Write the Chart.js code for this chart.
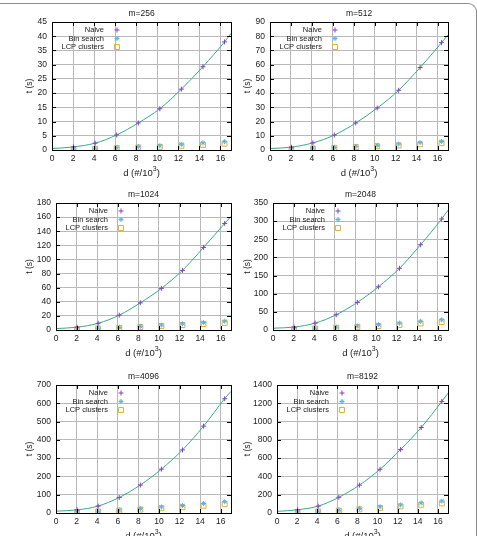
<!DOCTYPE html>
<html>
<head>
<meta charset="utf-8">
<script src="https://cdn.jsdelivr.net/npm/chart.js@4"></script>
<style>
  html, body { margin: 0; padding: 0; background: #fff; }
  body { width: 477px; height: 536px; position: relative; overflow: hidden; }
  .frame {
    position: absolute; left: -12px; top: 3px; width: 489px; height: 560px;
    box-sizing: border-box; border-top: 1.5px solid #8c8c8c; border-right: 1.5px solid #8c8c8c;
    border-top-right-radius: 9px;
  }
  .cell { position: absolute; }
</style>
</head>
<body>
<div class="frame"></div>
<div id="grid"></div>
<script>
// d values (#/10^3) where the runs were measured
const dValues = [2.048, 4.096, 6.144, 8.192, 10.24, 12.288, 14.336, 16.384];

const panelTitles = ['m=256', 'm=512', 'm=1024', 'm=2048', 'm=4096', 'm=8192'];
const yMaxes = [45, 90, 180, 350, 700, 1400];
const ySteps = [5, 10, 20, 50, 100, 200];

const naive256 = [1.1, 2.4, 5.3, 9.5, 14.5, 21.4, 29.3, 38.0];
const naive512 = [2.0, 5.0, 10.5, 19.0, 29.5, 42.0, 58.0, 75.5];
const naive1024 = [4, 9.5, 21, 38.5, 59, 84.5, 117, 151];
const naive2048 = [8, 19, 42, 76, 119, 170, 235, 306];
const naive4096 = [17, 38, 85, 153, 240, 345, 475, 625];
const naive8192 = [35, 75, 172, 305, 478, 695, 935, 1220];

const bin256 = [0.3, 0.6, 0.8, 1.2, 1.5, 2.0, 2.5, 2.9];
const bin512 = [0.8, 1.3, 1.8, 2.6, 3.3, 4.2, 5.2, 6.0];
const bin1024 = [1.5, 2.5, 3.7, 5.3, 7.0, 8.8, 10.5, 12.5];
const bin2048 = [3, 5, 8, 11, 15, 19, 24, 28];
const bin4096 = [6, 10, 16, 24, 33, 41, 52, 62];
const bin8192 = [12, 20, 32, 50, 68, 88, 110, 130];

const lcp256 = [0.2, 0.4, 0.7, 0.9, 1.1, 1.5, 1.8, 2.2];
const lcp512 = [0.6, 1.0, 1.5, 2.0, 2.6, 3.2, 4.0, 4.8];
const lcp1024 = [1.2, 2.0, 3.0, 4.2, 5.5, 7.0, 8.5, 10.0];
const lcp2048 = [2.5, 4, 6, 8.5, 11, 14, 18, 22];
const lcp4096 = [5, 8, 13, 19, 26, 32, 40, 48];
const lcp8192 = [10, 16, 26, 40, 55, 72, 90, 105];

// fitted curve, read at d=0 and at the right edge d=17
const fitAt0 = [0.5, 1.0, 2.0, 5.0, 10, 18];
const fitAt17 = [41, 81, 161, 330, 665, 1310];

const naiveSets = [naive256, naive512, naive1024, naive2048, naive4096, naive8192];
const binSets = [bin256, bin512, bin1024, bin2048, bin4096, bin8192];
const lcpSets = [lcp256, lcp512, lcp1024, lcp2048, lcp4096, lcp8192];

const seriesNames = ['Naive', 'Bin search', 'LCP clusters'];
const xTitle = 'd (#/10';
const xTitleSup = '3';
const yTitle = 't (s)';

// layout: cell box and plot area (page pixels)
const cells = [
  { x: 0, y: 0, w: 238, h: 178, L: 52, R: 231, T: 22, B: 150 },
  { x: 238, y: 0, w: 239, h: 178, L: 270, R: 448, T: 22, B: 150 },
  { x: 0, y: 178, w: 238, h: 180, L: 56, R: 231, T: 203, B: 330 },
  { x: 238, y: 178, w: 239, h: 180, L: 273, R: 448, T: 203, B: 330 },
  { x: 0, y: 358, w: 238, h: 178, L: 56, R: 231, T: 385, B: 513 },
  { x: 238, y: 358, w: 239, h: 178, L: 277, R: 448, T: 385, B: 513 },
];

const colors = { naive: '#8a3cd0', bin: '#56b4e9', lcp: '#e6b030', fit: '#35ab8a', grid: '#b8b8b8', text: '#1a1a1a' };
const FONT = '"Liberation Sans", Arial, sans-serif';

const panelDecor = {
  id: 'panelDecor',
  afterDraw(chart, args, opts) {
    const { ctx, chartArea: a, scales } = chart;
    ctx.save();
    // frame + inward ticks like gnuplot
    ctx.strokeStyle = '#000';
    ctx.lineWidth = 1;
    ctx.strokeRect(Math.round(a.left) + 0.5, Math.round(a.top) + 0.5, Math.round(a.right - a.left), Math.round(a.bottom - a.top));
    ctx.beginPath();
    scales.x.ticks.forEach(t => {
      const px = Math.round(scales.x.getPixelForValue(t.value)) + 0.5;
      ctx.moveTo(px, a.bottom); ctx.lineTo(px, a.bottom - 4);
      ctx.moveTo(px, a.top); ctx.lineTo(px, a.top + 4);
    });
    scales.y.ticks.forEach(t => {
      const py = Math.round(scales.y.getPixelForValue(t.value)) + 0.5;
      ctx.moveTo(a.left, py); ctx.lineTo(a.left + 4, py);
      ctx.moveTo(a.right, py); ctx.lineTo(a.right - 4, py);
    });
    ctx.stroke();

    ctx.fillStyle = colors.text;
    // panel title
    ctx.font = '8.5px ' + FONT;
    ctx.textAlign = 'center';
    ctx.textBaseline = 'middle';
    ctx.fillText(opts.title, (a.left + a.right) / 2, a.top - 8);

    // x axis title with superscript
    const cx = (a.left + a.right) / 2;
    const base = a.bottom + 26;
    ctx.textBaseline = 'alphabetic';
    ctx.font = '9.5px ' + FONT;
    const w1 = ctx.measureText(xTitle).width;
    ctx.font = '7px ' + FONT;
    const w2 = ctx.measureText(xTitleSup).width;
    ctx.font = '9.5px ' + FONT;
    const w3 = ctx.measureText(')').width;
    let x0 = cx - (w1 + w2 + w3) / 2;
    ctx.textAlign = 'left';
    ctx.fillText(xTitle, x0, base);
    ctx.font = '7px ' + FONT;
    ctx.fillText(xTitleSup, x0 + w1, base - 5);
    ctx.font = '9.5px ' + FONT;
    ctx.fillText(')', x0 + w1 + w2, base);

    // y axis title
    ctx.save();
    ctx.font = '8.5px ' + FONT;
    ctx.translate(opts.yTitleX, (a.top + a.bottom) / 2);
    ctx.rotate(-Math.PI / 2);
    ctx.textAlign = 'center';
    ctx.textBaseline = 'middle';
    ctx.fillText(yTitle, 0, 0);
    ctx.restore();

    // key: text right aligned, marker on the right
    ctx.font = '7.5px ' + FONT;
    ctx.textAlign = 'right';
    ctx.textBaseline = 'middle';
    const mx = a.left + 65;
    chart.data.datasets.slice(0, 3).forEach((ds, i) => {
      const ky = a.top + 8 + i * 8.5;
      ctx.fillStyle = colors.text;
      ctx.fillText(seriesNames[i], a.left + 52, ky);
      ctx.strokeStyle = ds.borderColor;
      ctx.fillStyle = ds.backgroundColor;
      ctx.lineWidth = ds.borderWidth;
      Chart.helpers.drawPoint(ctx, {
        pointStyle: ds.pointStyle, radius: ds.pointRadius, borderWidth: ds.borderWidth, rotation: 0
      }, mx, ky);
    });
    ctx.restore();
  }
};

const gridEl = document.getElementById('grid');

cells.forEach((c, i) => {
  const div = document.createElement('div');
  div.className = 'cell';
  div.style.left = c.x + 'px';
  div.style.top = c.y + 'px';
  const canvas = document.createElement('canvas');
  canvas.width = c.w;
  canvas.height = c.h;
  canvas.style.width = c.w + 'px';
  canvas.style.height = c.h + 'px';
  div.appendChild(canvas);
  gridEl.appendChild(div);

  const pts = arr => dValues.map((d, k) => ({ x: d, y: arr[k] }));
  const fitPts = [{ x: 0, y: fitAt0[i] }, ...pts(naiveSets[i]), { x: 17, y: fitAt17[i] }];

  new Chart(canvas.getContext('2d'), {
    type: 'scatter',
    data: {
      datasets: [
        { label: seriesNames[0], data: pts(naiveSets[i]), pointStyle: 'cross', pointRadius: 2.5,
          borderColor: colors.naive, backgroundColor: colors.naive, borderWidth: 1, order: 1 },
        { label: seriesNames[1], data: pts(binSets[i]), pointStyle: 'star', pointRadius: 2.5,
          borderColor: colors.bin, backgroundColor: colors.bin, borderWidth: 1, order: 2 },
        { label: seriesNames[2], data: pts(lcpSets[i]), pointStyle: 'rect', pointRadius: 3.5,
          borderColor: colors.lcp, backgroundColor: 'rgba(0,0,0,0)', borderWidth: 1, order: 3 },
        { label: 'fit', data: fitPts, showLine: true, pointRadius: 0, borderColor: colors.fit,
          borderWidth: 1, cubicInterpolationMode: 'monotone', order: 4 },
      ]
    },
    options: {
      responsive: false,
      animation: false,
      devicePixelRatio: 1,
      layout: { padding: { left: 0, top: c.T - c.y, right: c.x + c.w - c.R, bottom: 0 } },
      plugins: {
        legend: { display: false },
        tooltip: { enabled: false },
        panelDecor: { title: panelTitles[i], yTitleX: (c.x === 0 ? 30 : 10) }
      },
      scales: {
        x: {
          type: 'linear', min: 0, max: 17,
          afterFit: s => { s.height = c.y + c.h - c.B; },
          ticks: { stepSize: 2, includeBounds: false, autoSkip: false, maxRotation: 0, padding: 4,
                   color: colors.text, font: { family: FONT, size: 8.5 } },
          grid: { color: colors.grid, drawTicks: false },
          border: { color: '#000' }
        },
        y: {
          type: 'linear', min: 0, max: yMaxes[i],
          afterFit: s => { s.width = c.L - c.x; },
          ticks: { stepSize: ySteps[i], autoSkip: false, padding: 5, callback: v => String(v),
                   color: colors.text, font: { family: FONT, size: 8.5 } },
          grid: { color: colors.grid, drawTicks: false },
          border: { color: '#000' }
        }
      }
    },
    plugins: [panelDecor]
  });
});
</script>
</body>
</html>
